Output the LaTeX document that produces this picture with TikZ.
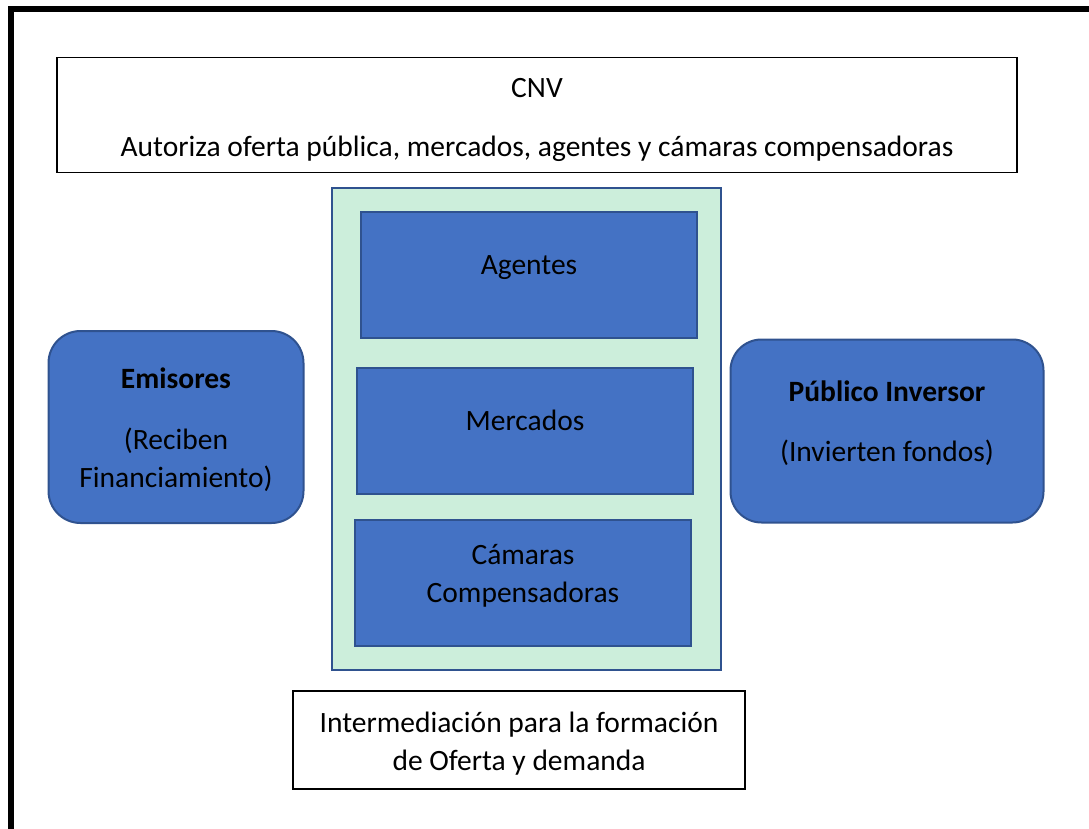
\documentclass[tikz,border=0pt]{standalone}
\usepackage{fontspec}
\setmainfont{Carlito}
\usetikzlibrary{positioning}
\definecolor{bluefill}{HTML}{4472C4}
\definecolor{blueline}{HTML}{2F528F}
\definecolor{greenfill}{HTML}{CCEEDB}

\begin{document}
\begin{tikzpicture}[
  x=1pt, y=-1pt,
  font=\fontsize{29.5}{38}\selectfont,
  whitebox/.style={draw, line width=1.5pt, fill=white, inner sep=0pt},
  bluebox/.style={draw=blueline, line width=2pt, fill=bluefill, inner sep=0pt},
  roundbox/.style={bluebox, rounded corners=32pt},
  txt/.style={align=center, inner sep=0pt}
]
  \useasboundingbox (0,0) rectangle (1089,829);

  % frame
  \draw[line width=6pt] (11,829) -- (11,9) -- (1089,9);

  % regulator
  \node[whitebox, minimum width=960pt, minimum height=115pt] (cnv) at (537,115) {};
  \node[txt] (cnv-t) at ([yshift=-5pt]cnv.center)
    {CNV\\[21pt]Autoriza oferta pública, mercados, agentes y cámaras compensadoras};

  % intermediaries
  \node[draw=blueline, line width=2pt, fill=greenfill, minimum width=389pt, minimum height=481pt] (interm) at (526,429) {};
  \node[bluebox, minimum width=336pt, minimum height=126pt] (agentes) at (529,275) {};
  \node[bluebox, minimum width=336pt, minimum height=126pt] (mercados) at (525,431) {};
  \node[bluebox, minimum width=336pt, minimum height=126pt] (camaras) at (523,583) {};
  \node[txt] (agentes-t) at ([yshift=7pt]agentes.center) {Agentes};
  \node[txt] (mercados-t) at ([yshift=11pt]mercados.center) {Mercados};
  \node[txt] (camaras-t) at ([yshift=7pt]camaras.center) {Cámaras\\Compensadoras};

  % sides
  \node[roundbox, minimum width=255pt, minimum height=192pt] (emisores) at (176,427) {};
  \node[txt] (emisores-t) at ([yshift=-3pt]emisores.center)
    {\textbf{Emisores}\\[23pt](Reciben\\Financiamiento)};
  \node[roundbox, rounded corners=31pt, minimum width=313pt, minimum height=183pt] (publico) at (887,431) {};
  \node[txt] (publico-t) at ([yshift=8pt]publico.center)
    {\textbf{Público Inversor}\\[22pt](Invierten fondos)};

  % caption box
  \node[whitebox, minimum width=452pt, minimum height=98pt] (oferta) at (519,740) {};
  \node[txt] (oferta-t) at ([yshift=-4pt]oferta.center)
    {Intermediación para la formación\\de Oferta y demanda};
\end{tikzpicture}
\end{document}
